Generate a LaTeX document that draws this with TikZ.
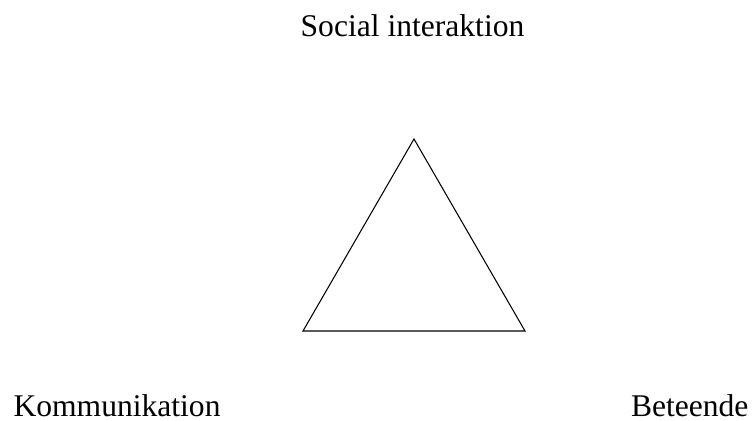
\documentclass[tikz,border=0pt]{standalone}
\usepackage{fontspec}
\setmainfont{Liberation Serif}
\usepackage{tikz}

\begin{document}
\begin{tikzpicture}[x=0.38pt, y=-0.38pt,
    lbl/.style={inner sep=0pt, font=\fontsize{12}{14}\selectfont}]
    \useasboundingbox (0,0) rectangle (756,421);

    % Corners of the triangle
    \coordinate (top) at (414,139);
    \coordinate (left) at (303,331);
    \coordinate (right) at (525,331);

    % Labels
    \node[lbl, anchor=base] (social) at (412.5,37) {Social interaktion};
    \node[lbl, anchor=base west] (komm) at (13,417) {Kommunikation};
    \node[lbl, anchor=base east] (beteende) at (749,417) {Beteende};

    % Triangle
    \draw (top) -- (right) -- (left) -- cycle;
\end{tikzpicture}
\end{document}
